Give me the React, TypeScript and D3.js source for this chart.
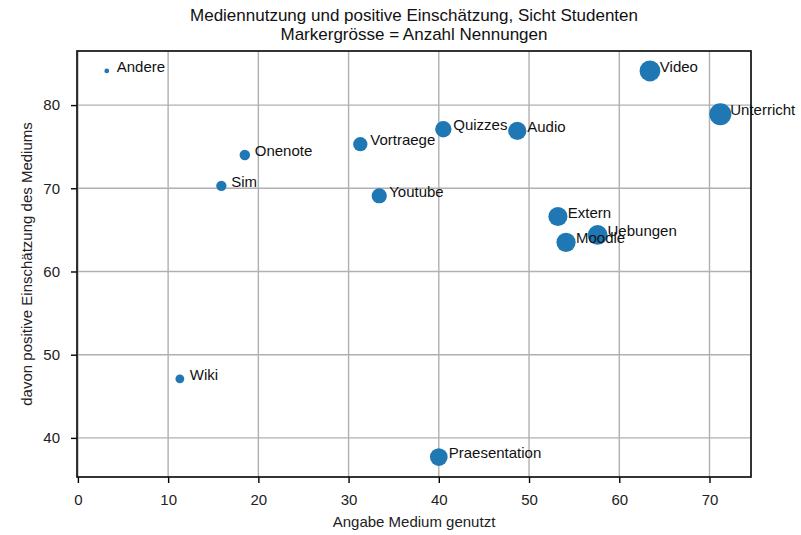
import { useEffect, useRef } from "react";
import * as d3 from "d3";

const W = 801;
const H = 535;
const margin = { top: 51, right: 50, bottom: 58, left: 77 };
const FONT = "'Liberation Sans', Arial, sans-serif";

const MEDIEN: string[] = [
  "Andere", "Onenote", "Sim", "Wiki", "Vortraege", "Quizzes", "Audio",
  "Youtube", "Video", "Unterricht", "Extern", "Uebungen", "Moodle", "Praesentation",
];
const GENUTZT: number[] = [3.2, 18.5, 15.9, 11.3, 31.3, 40.5, 48.7, 33.4, 63.4, 71.2, 53.2, 57.6, 54.1, 40.0];
const POSITIV: number[] = [84.1, 74.0, 70.3, 47.1, 75.3, 77.1, 76.9, 69.1, 84.1, 78.9, 66.6, 64.4, 63.5, 37.7];
const NENNUNGEN: number[] = [5, 24, 23, 17, 44, 58, 72, 50, 94, 105, 79, 85, 80, 68];
const X_TICKS: number[] = [0, 10, 20, 30, 40, 50, 60, 70];
const Y_TICKS: number[] = [40, 50, 60, 70, 80];

const App = () => {
  const svgRef = useRef<SVGSVGElement | null>(null);

  useEffect(() => {
    if (!svgRef.current) return;
    const svg = d3.select(svgRef.current);
    svg.selectAll("*").remove();

    const innerW = W - margin.left - margin.right;
    const innerH = H - margin.top - margin.bottom;

    const data = MEDIEN.map((name, i) => ({
      name,
      x: GENUTZT[i],
      y: POSITIV[i],
      n: NENNUNGEN[i],
    }));

    const x = d3.scaleLinear().domain([-0.1, 74.6]).range([0, innerW]);
    const y = d3.scaleLinear().domain([35.3, 86.5]).range([innerH, 0]);
    const r = d3.scaleSqrt().domain([0, d3.max(NENNUNGEN) as number]).range([0, 11]);

    const g = svg
      .append("g")
      .attr("transform", `translate(${margin.left}, ${margin.top})`);

    // grid
    g.append("g")
      .selectAll("line")
      .data(X_TICKS)
      .join("line")
      .attr("x1", (d) => x(d))
      .attr("x2", (d) => x(d))
      .attr("y1", 0)
      .attr("y2", innerH)
      .attr("stroke", "#b0b0b0")
      .attr("stroke-width", 1.4);
    g.append("g")
      .selectAll("line")
      .data(Y_TICKS)
      .join("line")
      .attr("x1", 0)
      .attr("x2", innerW)
      .attr("y1", (d) => y(d))
      .attr("y2", (d) => y(d))
      .attr("stroke", "#b0b0b0")
      .attr("stroke-width", 1.4);

    // axes
    const xAxis = g
      .append("g")
      .attr("transform", `translate(0, ${innerH})`)
      .call(d3.axisBottom(x).tickValues(X_TICKS).tickSize(6).tickPadding(11).tickSizeOuter(0));
    const yAxis = g
      .append("g")
      .call(d3.axisLeft(y).tickValues(Y_TICKS).tickSize(6).tickPadding(11).tickSizeOuter(0));
    [xAxis, yAxis].forEach((a) => {
      a.select(".domain").remove();
      a.selectAll("line").attr("stroke", "#000").attr("stroke-width", 1.4);
      a.selectAll("text")
        .attr("font-family", FONT)
        .attr("font-size", 15)
        .attr("fill", "#222");
    });

    // frame
    g.append("rect")
      .attr("width", innerW)
      .attr("height", innerH)
      .attr("fill", "none")
      .attr("stroke", "#111")
      .attr("stroke-width", 1.7);

    // points
    g.append("g")
      .selectAll("circle")
      .data(data)
      .join("circle")
      .attr("cx", (d) => x(d.x))
      .attr("cy", (d) => y(d.y))
      .attr("r", (d) => r(d.n))
      .attr("fill", "#1f77b4");

    // labels
    g.append("g")
      .selectAll("text")
      .data(data)
      .join("text")
      .attr("x", (d) => x(d.x + 1.1))
      .attr("y", (d) => y(d.y) + 1)
      .attr("font-family", FONT)
      .attr("font-size", 15)
      .attr("fill", "#111")
      .text((d) => d.name);

    // titles
    const cx = margin.left + innerW / 2;
    const title = svg
      .append("text")
      .attr("text-anchor", "middle")
      .attr("font-family", FONT)
      .attr("font-size", 17)
      .attr("fill", "#111");
    title.append("tspan").attr("x", cx).attr("y", 21).text("Mediennutzung und positive Einschätzung, Sicht Studenten");
    title.append("tspan").attr("x", cx).attr("y", 40).text("Markergrösse = Anzahl Nennungen");

    svg
      .append("text")
      .attr("x", cx)
      .attr("y", 527)
      .attr("text-anchor", "middle")
      .attr("font-family", FONT)
      .attr("font-size", 15)
      .attr("fill", "#222")
      .text("Angabe Medium genutzt");

    svg
      .append("text")
      .attr("transform", `translate(32, ${margin.top + innerH / 2}) rotate(-90)`)
      .attr("text-anchor", "middle")
      .attr("font-family", FONT)
      .attr("font-size", 15)
      .attr("fill", "#222")
      .text("davon positive Einschätzung des Mediums");
  }, []);

  return (
    <div className="app">
      <svg
        ref={svgRef}
        width={W}
        height={H}
        style={{ position: "absolute", left: 0, top: 0, background: "#fff" }}
      />
    </div>
  );
};

export default App;
